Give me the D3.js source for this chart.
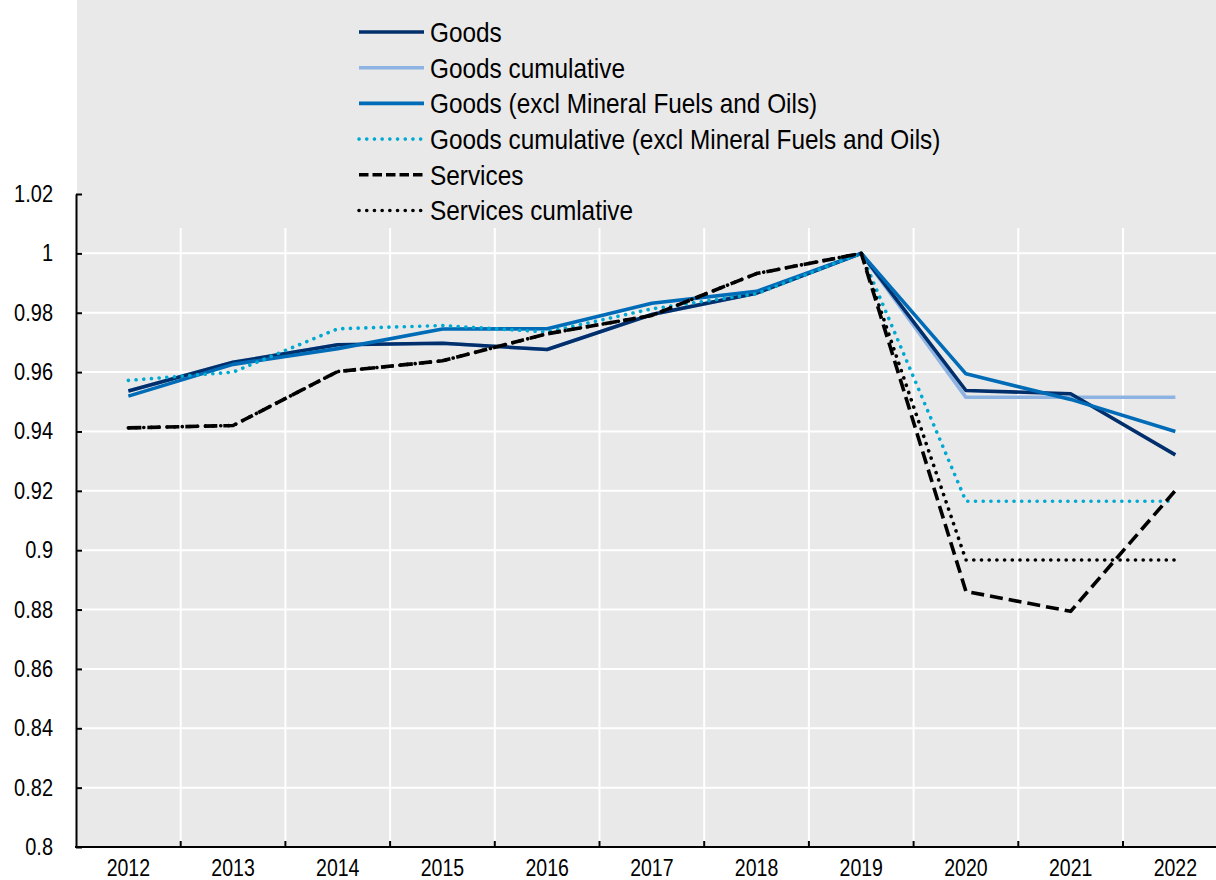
<!DOCTYPE html>
<meta charset="utf-8">
<script src="https://d3js.org/d3.v7.min.js"></script>
<style>
    body { margin: 0; background: #fff; }
    text { font-family: "Liberation Sans", Arial, sans-serif; fill: #000; }
</style>
<svg width="1216" height="880"></svg>
<script>
    // values
    var years = [2012, 2013, 2014, 2015, 2016, 2017, 2018, 2019, 2020, 2021, 2022];
    var goods = [0.9536, 0.9633, 0.9692, 0.9697, 0.9676, 0.9794, 0.9866, 1.0, 0.9538, 0.9527, 0.9321];
    var goodsCum = [0.9536, 0.9633, 0.9692, 0.9697, 0.9676, 0.9794, 0.9866, 1.0, 0.9515, 0.9515, 0.9515];
    var goodsExcl = [0.9519, 0.9626, 0.9679, 0.9745, 0.9746, 0.9832, 0.9872, 1.0, 0.9594, 0.9508, 0.9400];
    var goodsCumExcl = [0.9572, 0.9600, 0.9746, 0.9757, 0.9735, 0.9813, 0.9864, 1.0, 0.9165, 0.9165, 0.9165];
    var services = [0.9412, 0.9420, 0.9602, 0.9638, 0.9729, 0.9791, 0.9932, 1.0, 0.8861, 0.8794, 0.9201];
    var servicesCum = [0.9412, 0.9420, 0.9602, 0.9638, 0.9729, 0.9791, 0.9932, 1.0, 0.8967, 0.8967, 0.8967];
    var yTicks = [0.8, 0.82, 0.84, 0.86, 0.88, 0.9, 0.92, 0.94, 0.96, 0.98, 1, 1.02];
    var gridTicks = [0.82, 0.84, 0.86, 0.88, 0.9, 0.92, 0.94, 0.96, 0.98, 1];

    // legend order
    var series = [
        {name: "Goods", values: goods, color: "#002f6c", dash: null, cap: "butt"},
        {name: "Goods cumulative", values: goodsCum, color: "#8db3e2", dash: null, cap: "butt"},
        {name: "Goods (excl Mineral Fuels and Oils)", values: goodsExcl, color: "#006bb6", dash: null, cap: "butt"},
        {name: "Goods cumulative (excl Mineral Fuels and Oils)", values: goodsCumExcl, color: "#00a9d2", dash: "0.1,7.6", cap: "round"},
        {name: "Services", values: services, color: "#000", dash: "13,6", cap: "butt"},
        {name: "Services cumlative", values: servicesCum, color: "#000", dash: "0.1,7.6", cap: "round"}
    ];
    // drawing order: cumulative goods sits under goods
    var drawOrder = [1, 0, 2, 3, 4, 5];

    var svg = d3.select("svg"),
        width = +svg.attr("width"),
        height = +svg.attr("height");

    var plotLeft = 76, plotTop = 194, plotBottom = 847, gridTop = 228;

    var x = d3.scaleBand()
        .domain(years)
        .range([plotLeft, plotLeft + 104.7 * years.length]);

    var y = d3.scaleLinear()
        .domain([0.8, 1.02])
        .range([plotBottom, plotTop]);

    // the original font is a narrow face: squash Liberation Sans to fit
    function squeeze(sel, k) {
        sel.each(function() {
            this.setAttribute("textLength", this.getComputedTextLength() * k);
            this.setAttribute("lengthAdjust", "spacingAndGlyphs");
        });
    }

    // grey plot background
    svg.append("rect")
        .attr("x", plotLeft + 1)
        .attr("y", 0)
        .attr("width", width - plotLeft - 1)
        .attr("height", plotBottom)
        .attr("fill", "#e9e9e9");

    // grid
    svg.append("g")
        .selectAll("line")
        .data(gridTicks)
        .enter().append("line")
        .attr("x1", plotLeft)
        .attr("x2", width)
        .attr("y1", function(d) { return y(d); })
        .attr("y2", function(d) { return y(d); })
        .attr("stroke", "#fff")
        .attr("stroke-width", 2);

    svg.append("g")
        .selectAll("line")
        .data(years.slice(1))
        .enter().append("line")
        .attr("x1", function(d) { return x(d); })
        .attr("x2", function(d) { return x(d); })
        .attr("y1", gridTop)
        .attr("y2", plotBottom)
        .attr("stroke", "#fff")
        .attr("stroke-width", 2);

    // lines
    var line = d3.line()
        .x(function(d) { return x(d.year) + x.bandwidth() / 2; })
        .y(function(d) { return y(d.value); });

    drawOrder.forEach(function(i) {
        var s = series[i];
        svg.append("path")
            .datum(years.map(function(yr, j) { return {year: yr, value: s.values[j]}; }))
            .attr("fill", "none")
            .attr("stroke", s.color)
            .attr("stroke-width", 3.6)
            .attr("stroke-linecap", s.cap)
            .attr("stroke-linejoin", "round")
            .attr("stroke-dasharray", s.dash)
            .attr("d", line);
    });

    // y axis
    var yAxis = svg.append("g")
        .attr("transform", "translate(" + plotLeft + ",0)")
        .call(d3.axisLeft(y)
            .tickValues(yTicks)
            .tickSizeInner(-6)
            .tickSizeOuter(0)
            .tickPadding(23)
            .tickFormat(function(d) { return String(+d.toFixed(2)); }));
    yAxis.select(".domain").attr("stroke", "#000").attr("stroke-width", 2);
    yAxis.selectAll(".tick line").attr("stroke", "#000").attr("stroke-width", 2);
    yAxis.selectAll("text")
        .style("font-family", "'Liberation Sans', Arial, sans-serif")
        .style("font-size", "23.5px")
        .call(squeeze, 0.85);

    // x axis: labels at band centres, ticks on band edges
    var xAxis = svg.append("g")
        .attr("transform", "translate(0," + plotBottom + ")")
        .call(d3.axisBottom(x)
            .tickSize(0)
            .tickPadding(12));
    xAxis.select(".domain").remove();
    xAxis.selectAll("text")
        .style("font-family", "'Liberation Sans', Arial, sans-serif")
        .style("font-size", "23.5px")
        .call(squeeze, 0.83);

    svg.append("g")
        .selectAll("line")
        .data(years.slice(1))
        .enter().append("line")
        .attr("x1", function(d) { return x(d); })
        .attr("x2", function(d) { return x(d); })
        .attr("y1", plotBottom - 6)
        .attr("y2", plotBottom)
        .attr("stroke", "#000")
        .attr("stroke-width", 2);

    svg.append("line")
        .attr("x1", plotLeft - 1)
        .attr("x2", width)
        .attr("y1", plotBottom)
        .attr("y2", plotBottom)
        .attr("stroke", "#000")
        .attr("stroke-width", 2);

    // legend
    var legend = svg.append("g")
        .attr("transform", "translate(359,32)");

    var item = legend.selectAll("g")
        .data(series)
        .enter().append("g")
        .attr("transform", function(d, i) { return "translate(0," + (i * 35.7) + ")"; });

    item.append("line")
        .attr("x1", 0)
        .attr("x2", 65)
        .attr("stroke", function(d) { return d.color; })
        .attr("stroke-width", 3.6)
        .attr("stroke-linecap", function(d) { return d.cap; })
        .attr("stroke-dasharray", function(d) { return d.dash == "13,6" ? "9.5,4" : d.dash; });

    item.append("text")
        .attr("x", 71)
        .attr("y", 9.8)
        .style("font-size", "28px")
        .text(function(d) { return d.name; })
        .call(squeeze, 0.87);
</script>
